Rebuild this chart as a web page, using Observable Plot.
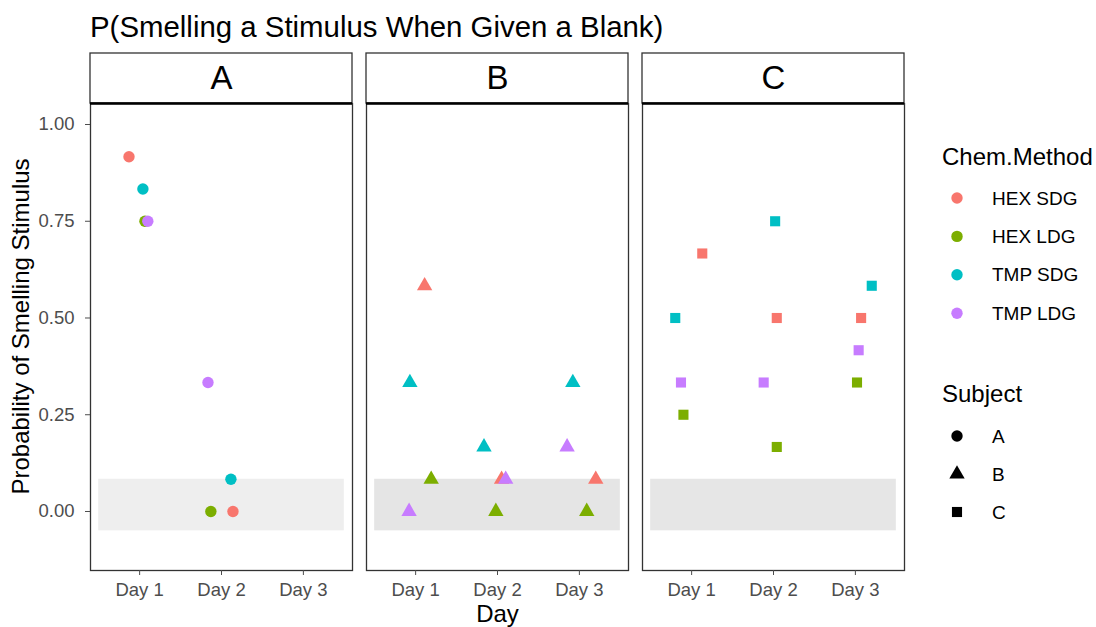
<!DOCTYPE html>
<html>
<head>
<meta charset="utf-8">
<script src="https://cdn.jsdelivr.net/npm/d3@7"></script>
<script src="https://cdn.jsdelivr.net/npm/@observablehq/plot@0.6"></script>
<style>
  body { margin: 0; background: #fff; font-family: 'Liberation Sans', Arial, sans-serif; }
  #wrap { position: relative; width: 1096px; height: 627px; overflow: hidden; background: #fff; }
  #title { position: absolute; left: 90px; top: 12px; font-size: 29.4px; line-height: 29.4px; white-space: nowrap; color: #000; }
  #chart { position: absolute; left: 0; top: 50px; }
  #legend { position: absolute; left: 920px; top: 0; }
</style>
</head>
<body>
<div id="wrap">
  <div id="title"></div>
  <div id="chart"></div>
  <svg id="legend" width="176" height="627"></svg>
</div>
<script>
// ---------------- data ----------------
const titleText = "P(Smelling a Stimulus When Given a Blank)";
const yTitle = "Probability of Smelling Stimulus";
const xTitle = "Day";
const subjects = ["A", "B", "C"];
const subjectSymbols = ["circle", "triangle", "square"];
const methods = ["HEX SDG", "HEX LDG", "TMP SDG", "TMP LDG"];
const methodColors = ["#F8766D", "#7CAE00", "#00BFC4", "#C77CFF"];
const days = [1, 2, 3];
const dayLabels = ["Day 1", "Day 2", "Day 3"];
const yTicks = [0, 0.25, 0.5, 0.75, 1];
const legendTitles = ["Chem.Method", "Subject"];

// blank-threshold band (probability range and day span)
const bandLow = -0.05;
const bandHigh = 0.0833;
const bandDayFrom = 0.5;
const bandDayTo = 3.5;
const bandFills = ["#eeeeee", "#e5e5e5", "#e6e6e6"];

// [method, day, probability, horizontal jitter (in day units)]
const subjectA = [
  ["HEX SDG", 1, 0.9167, -0.13],
  ["TMP SDG", 1, 0.8333, 0.04],
  ["HEX LDG", 1, 0.75, 0.065],
  ["TMP LDG", 1, 0.75, 0.10],
  ["TMP LDG", 2, 0.3333, -0.165],
  ["TMP SDG", 2, 0.0833, 0.115],
  ["HEX LDG", 2, 0, -0.13],
  ["HEX SDG", 2, 0, 0.14]
];
const subjectB = [
  ["HEX SDG", 1, 0.5833, 0.11],
  ["TMP SDG", 1, 0.3333, -0.07],
  ["TMP SDG", 3, 0.3333, -0.08],
  ["TMP SDG", 2, 0.1667, -0.165],
  ["TMP LDG", 3, 0.1667, -0.15],
  ["HEX LDG", 1, 0.0833, 0.19],
  ["HEX SDG", 2, 0.0833, 0.05],
  ["TMP LDG", 2, 0.0833, 0.10],
  ["HEX SDG", 3, 0.0833, 0.20],
  ["TMP LDG", 1, 0, -0.08],
  ["HEX LDG", 2, 0, -0.02],
  ["HEX LDG", 3, 0, 0.09]
];
const subjectC = [
  ["TMP SDG", 2, 0.75, 0.02],
  ["HEX SDG", 1, 0.6667, 0.13],
  ["TMP SDG", 3, 0.5833, 0.20],
  ["TMP SDG", 1, 0.5, -0.20],
  ["HEX SDG", 2, 0.5, 0.04],
  ["HEX SDG", 3, 0.5, 0.07],
  ["TMP LDG", 3, 0.4167, 0.04],
  ["TMP LDG", 1, 0.3333, -0.13],
  ["TMP LDG", 2, 0.3333, -0.12],
  ["HEX LDG", 3, 0.3333, 0.02],
  ["HEX LDG", 1, 0.25, -0.10],
  ["HEX LDG", 2, 0.1667, 0.04]
];

// ---------------- build table ----------------
const bySubject = [subjectA, subjectB, subjectC];
const points = bySubject.flatMap((rows, i) => rows.map(([method, day, value, jitter]) => ({
  subject: subjects[i], method, day, value, jitter
})));

const font = "'Liberation Sans', Arial, sans-serif";
const yDomain = [-0.1525, 1.0543];
const xDomain = [0.4, 3.6];
const stripH = 50;
const panelH = 467;
// strip box sits just above the panel: its top expressed in y-scale units
const stripTopY = yDomain[1] + (yDomain[1] - yDomain[0]) * stripH / panelH;

const bandMarks = subjects.map((s, i) => Plot.rect([s], {
  fx: d => d,
  x1: bandDayFrom, x2: bandDayTo, y1: bandLow, y2: bandHigh,
  fill: bandFills[i]
}));

const plot = Plot.plot({
  width: 1096,
  height: 577,
  marginLeft: 90,
  marginRight: 191,
  marginTop: 53,
  marginBottom: 57,
  style: { fontFamily: font, fontSize: "18.5px", background: "white", color: "black" },
  fx: { domain: subjects, paddingInner: 0.0507, paddingOuter: 0, axis: null, label: null },
  x: { domain: xDomain, label: null },
  y: { domain: yDomain, label: null },
  color: { domain: methods, range: methodColors },
  symbol: { domain: subjects, range: subjectSymbols },
  marks: [
    ...bandMarks,
    Plot.dot(points, {
      fx: "subject",
      x: d => d.day + d.jitter,
      y: "value",
      fill: "method",
      symbol: "subject",
      r: 5.7
    }),
    Plot.frame({ stroke: "#333", strokeWidth: 1.3 }),
    Plot.rect(subjects, { fx: d => d, x1: xDomain[0], x2: xDomain[1], y1: yDomain[1], y2: stripTopY, fill: "white", stroke: "#333", strokeWidth: 1.3 }),
    Plot.ruleY([yDomain[1]], { stroke: "black", strokeWidth: 2.6 }),
    Plot.text(subjects, { fx: d => d, text: d => d, frameAnchor: "top", lineAnchor: "middle", dy: -25, fontSize: 33, fill: "black" }),
    Plot.axisY({
      ticks: yTicks, tickFormat: d3.format(".2f"), tickSize: 5, tickPadding: 11,
      fontSize: 18.5, color: "#4d4d4d", label: null
    }),
    Plot.axisX({
      ticks: days, tickFormat: d => dayLabels[d - 1], tickSize: 5, tickPadding: 7,
      fontSize: 18.5, color: "#4d4d4d", label: null
    }),
    Plot.text([yTitle], { frameAnchor: "left", facetAnchor: "left", textAnchor: "middle", lineAnchor: "middle", rotate: -90, dx: -69, dy: -10.5, fontSize: 24, fill: "black" }),
    Plot.text([{ subject: subjects[1], label: xTitle }], { fx: "subject", text: "label", frameAnchor: "bottom", lineAnchor: "middle", dy: 44, fontSize: 24, fill: "black" })
  ]
});
document.getElementById("chart").appendChild(plot);
document.getElementById("title").textContent = titleText;

// ---------------- legend ----------------
const leg = d3.select("#legend");
const ox = 920;
const symbolArea = Math.PI * 5.7 * 5.7;
const symbolType = { circle: d3.symbolCircle, triangle: d3.symbolTriangle, square: d3.symbolSquare };
leg.append("text").attr("x", 942 - ox).attr("y", 164.5)
  .attr("font-family", font).attr("font-size", 24).text(legendTitles[0]);
methods.forEach((m, i) => {
  const cy = 198 + i * 38.4;
  leg.append("path").attr("transform", `translate(${957 - ox},${cy})`)
    .attr("d", d3.symbol(d3.symbolCircle, symbolArea)()).attr("fill", methodColors[i]);
  leg.append("text").attr("x", 992 - ox).attr("y", cy).attr("dy", "0.35em")
    .attr("font-family", font).attr("font-size", 19).text(m);
});
leg.append("text").attr("x", 942 - ox).attr("y", 401.5)
  .attr("font-family", font).attr("font-size", 24).text(legendTitles[1]);
subjects.forEach((s, i) => {
  const cy = 436 + i * 38;
  leg.append("path").attr("transform", `translate(${957 - ox},${cy})`)
    .attr("d", d3.symbol(symbolType[subjectSymbols[i]], symbolArea)()).attr("fill", "black");
  leg.append("text").attr("x", 992 - ox).attr("y", cy).attr("dy", "0.35em")
    .attr("font-family", font).attr("font-size", 19).text(s);
});
</script>
</body>
</html>
